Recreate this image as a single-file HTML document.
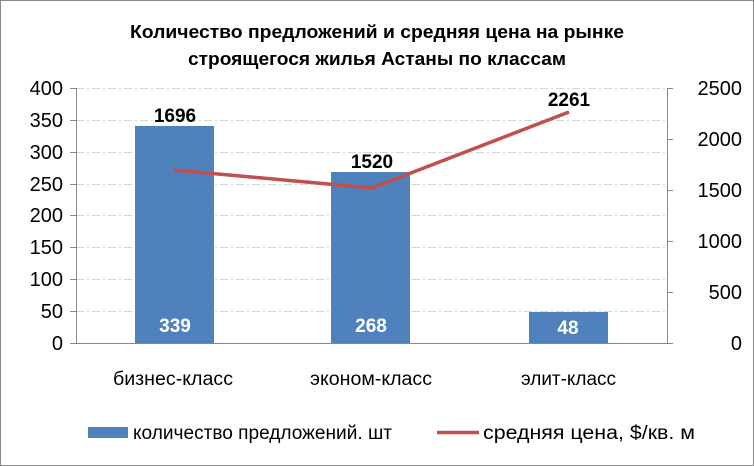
<!DOCTYPE html>
<html><head><meta charset="utf-8"><style>
body{margin:0;background:#fff}
svg{display:block;font-family:"Liberation Sans","DejaVu Sans",sans-serif}
</style></head><body>
<svg width="754" height="466" viewBox="0 0 754 466">
<rect x="0.5" y="0.5" width="753" height="465" fill="#fff" stroke="#888" stroke-width="1"/>
<text x="130" y="38" textLength="494" lengthAdjust="spacingAndGlyphs" font-size="18" font-weight="bold" fill="#000">Количество предложений и средняя цена на рынке</text>
<text x="188" y="65" textLength="378" lengthAdjust="spacingAndGlyphs" font-size="18" font-weight="bold" fill="#000">строящегося жилья Астаны по классам</text>
<g stroke="#d0d7e0" stroke-width="1" stroke-dasharray="8,3,2,3">
<line x1="76" y1="88.5" x2="667" y2="88.5"/>
<line x1="76" y1="120.5" x2="667" y2="120.5"/>
<line x1="76" y1="152.5" x2="667" y2="152.5"/>
<line x1="76" y1="184.5" x2="667" y2="184.5"/>
<line x1="76" y1="215.5" x2="667" y2="215.5"/>
<line x1="76" y1="247.5" x2="667" y2="247.5"/>
<line x1="76" y1="279.5" x2="667" y2="279.5"/>
<line x1="76" y1="311.5" x2="667" y2="311.5"/>
</g>
<g stroke="#888" stroke-width="1">
<line x1="76.5" y1="88" x2="76.5" y2="343"/>
<line x1="667.5" y1="88" x2="667.5" y2="343"/>
<line x1="76" y1="343.5" x2="667" y2="343.5"/>
<line x1="70" y1="88.5" x2="76" y2="88.5"/><line x1="70" y1="120.5" x2="76" y2="120.5"/><line x1="70" y1="152.5" x2="76" y2="152.5"/><line x1="70" y1="184.5" x2="76" y2="184.5"/><line x1="70" y1="215.5" x2="76" y2="215.5"/><line x1="70" y1="247.5" x2="76" y2="247.5"/><line x1="70" y1="279.5" x2="76" y2="279.5"/><line x1="70" y1="311.5" x2="76" y2="311.5"/><line x1="70" y1="343.5" x2="76" y2="343.5"/>
<line x1="667" y1="88.5" x2="673" y2="88.5"/><line x1="667" y1="139.5" x2="673" y2="139.5"/><line x1="667" y1="190.5" x2="673" y2="190.5"/><line x1="667" y1="241.5" x2="673" y2="241.5"/><line x1="667" y1="292.5" x2="673" y2="292.5"/><line x1="667" y1="343.5" x2="673" y2="343.5"/>
</g>
<g font-size="20" fill="#000" text-anchor="end">
<text x="63" y="95">400</text><text x="63" y="127">350</text><text x="63" y="159">300</text><text x="63" y="191">250</text><text x="63" y="222">200</text><text x="63" y="254">150</text><text x="63" y="286">100</text><text x="63" y="318">50</text><text x="63" y="350">0</text>
</g>
<g font-size="20" fill="#000" text-anchor="end">
<text x="742" y="95">2500</text><text x="742" y="146">2000</text><text x="742" y="197">1500</text><text x="742" y="248">1000</text><text x="742" y="299">500</text><text x="742" y="350">0</text>
</g>
<g fill="#4f81bd">
<rect x="135" y="126" width="79" height="217"/>
<rect x="331" y="172" width="79" height="171"/>
<rect x="529" y="312" width="79" height="31"/>
</g>
<polyline points="174,170 372,188 569,112" fill="none" stroke="#c0504d" stroke-width="3.5" stroke-linejoin="round"/>
<g font-size="19" font-weight="bold" text-anchor="middle">
<text x="175" y="122" fill="#000">1696</text>
<text x="372" y="168" fill="#000">1520</text>
<text x="569" y="106" fill="#000">2261</text>
<text x="175" y="332" fill="#fff">339</text>
<text x="371" y="332" fill="#fff">268</text>
<text x="568" y="334" fill="#fff">48</text>
</g>
<g font-size="19" fill="#000">
<text x="113" y="385" textLength="120" lengthAdjust="spacingAndGlyphs">бизнес-класс</text>
<text x="310" y="385" textLength="122" lengthAdjust="spacingAndGlyphs">эконом-класс</text>
<text x="521" y="385" textLength="95" lengthAdjust="spacingAndGlyphs">элит-класс</text>
</g>
<rect x="88" y="427" width="40" height="11" fill="#4f81bd"/>
<text x="133" y="439" font-size="19" textLength="259" lengthAdjust="spacingAndGlyphs" fill="#000">количество предложений. шт</text>
<line x1="437" y1="432.5" x2="479" y2="432.5" stroke="#c0504d" stroke-width="3.5"/>
<text x="483" y="439" font-size="19" textLength="212" lengthAdjust="spacingAndGlyphs" fill="#000">средняя цена, $/кв. м</text>
</svg>
</body></html>
